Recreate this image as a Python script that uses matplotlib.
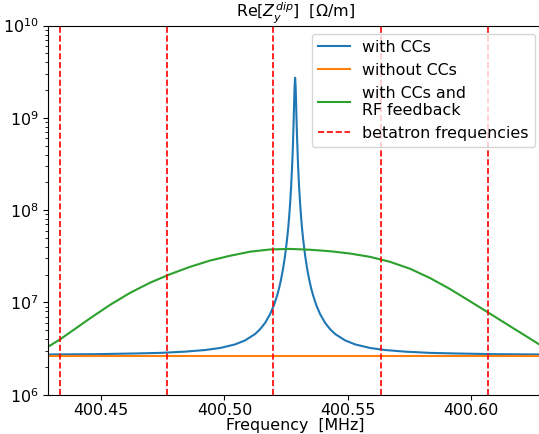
import numpy as np
import matplotlib
matplotlib.use('Agg')
import matplotlib.pyplot as plt
import matplotlib.ticker as mticker

# frequencies in MHz, impedance in Ohm/m
f_blue = [400.42724, 400.44753, 400.46377, 400.47391, 400.48406, 400.49217, 400.49826,
          400.50435, 400.50841, 400.51247, 400.51450, 400.51653, 400.51855, 400.52018,
          400.52140, 400.52221, 400.52302, 400.52383, 400.52464, 400.52545, 400.52586,
          400.52627, 400.52667, 400.52708, 400.52748, 400.52769, 400.52789, 400.52809,
          400.52829, 400.52850, 400.52870,
          400.52890, 400.52911, 400.52931, 400.52951, 400.52972, 400.52992, 400.53032,
          400.53073, 400.53114, 400.53154, 400.53195, 400.53276, 400.53357, 400.53438,
          400.53519, 400.53601, 400.53722, 400.53885, 400.54088, 400.54290, 400.54493,
          400.54899, 400.55305, 400.55914, 400.56523, 400.57334, 400.58349, 400.59363,
          400.60987, 400.63016]
z_blue = [2.73e6, 2.75e6, 2.80e6, 2.84e6, 2.93e6, 3.05e6, 3.21e6,
          3.51e6, 3.88e6, 4.55e6, 5.13e6, 6.01e6, 7.47e6, 9.46e6,
          1.19e7, 1.43e7, 1.79e7, 2.33e7, 3.23e7, 4.87e7, 6.25e7,
          8.35e7, 1.18e8, 1.78e8, 2.99e8, 4.11e8, 5.90e8, 8.94e8,
          1.43e9, 2.22e9, 2.72e9,
          2.22e9, 1.43e9, 8.94e8, 5.90e8, 4.11e8, 2.99e8, 1.78e8,
          1.18e8, 8.35e7, 6.25e7, 4.87e7, 3.23e7, 2.33e7, 1.79e7,
          1.43e7, 1.19e7, 9.46e6, 7.47e6, 6.01e6, 5.13e6, 4.55e6,
          3.88e6, 3.51e6, 3.21e6, 3.05e6, 2.93e6, 2.84e6, 2.80e6,
          2.75e6, 2.73e6]

f_orange = [400.4270, 400.6320]
z_orange = [2.62e6, 2.62e6]

f_green = [400.42845, 400.43333, 400.43942, 400.44550, 400.45361, 400.46173, 400.46985,
           400.47796, 400.48608, 400.49420, 400.50231, 400.51043, 400.51855, 400.52666,
           400.53478, 400.54290, 400.55101, 400.55913, 400.56725, 400.57537, 400.58348,
           400.59160, 400.59972, 400.60783, 400.61595, 400.62407, 400.63015]
z_green = [3.31e6, 3.98e6, 5.18e6, 6.73e6, 9.42e6, 1.271e7, 1.637e7,
           2.023e7, 2.432e7, 2.844e7, 3.206e7, 3.548e7, 3.750e7, 3.802e7,
           3.724e7, 3.589e7, 3.388e7, 3.119e7, 2.754e7, 2.317e7, 1.837e7,
           1.396e7, 1.028e7, 7.55e6, 5.52e6, 4.05e6, 3.20e6]

f_betatron = [400.4333, 400.4766, 400.5199, 400.5635, 400.6069]

plt.rcParams['font.size'] = 11.4
plt.rcParams['axes.titlesize'] = 11.4

fig = plt.figure(figsize=(5.39, 4.34), dpi=100)
ax = fig.add_axes([0.089, 0.0905, 0.9184, 0.8505])

ax.plot(f_blue, z_blue, color='tab:blue', label='with CCs')
ax.plot(f_orange, z_orange, color='tab:orange', label='without CCs')
ax.plot(f_green, z_green, color='tab:green', label='with CCs and\nRF feedback')
for i, fb in enumerate(f_betatron):
    ax.axvline(fb, color='r', linestyle='--', linewidth=1.2,
               label='betatron frequencies' if i == 0 else None)

ax.set_yscale('log')
ax.set_ylim(1e6, 1e10)
ax.set_xlim(400.4284, 400.6293)
ax.xaxis.set_major_locator(mticker.MultipleLocator(0.05))
ax.xaxis.set_major_formatter(mticker.FormatStrFormatter('%.2f'))
ax.tick_params(axis='x', pad=2.5)

ax.set_xlabel('Frequency  [MHz]', labelpad=0)
ax.set_title('Re[$Z_y^{dip}$]  [Ω/m]', pad=3)
ax.legend(loc='upper right')

fig.savefig('out.png', dpi=100)
